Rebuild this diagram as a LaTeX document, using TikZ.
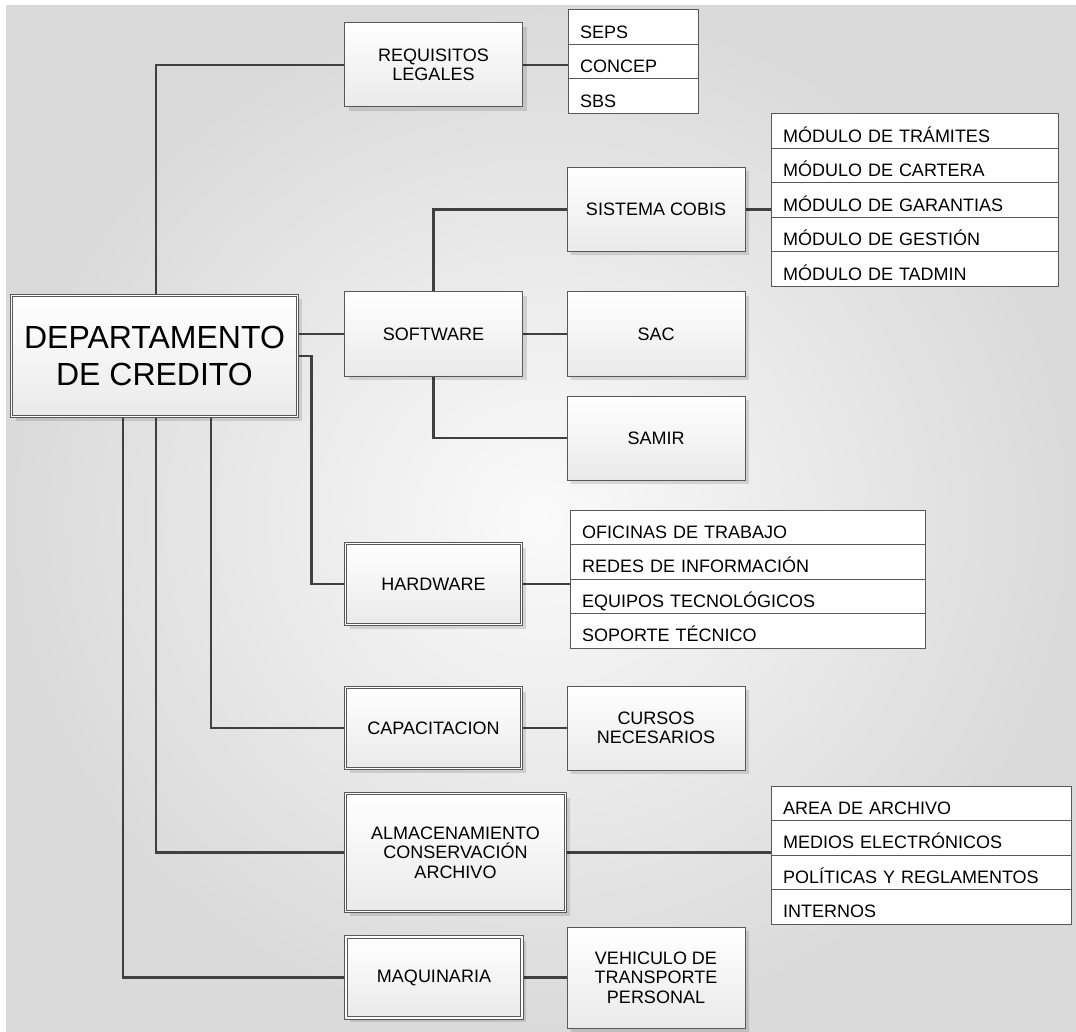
\documentclass[tikz,border=0pt]{standalone}
\usepackage{fontspec}
\setmainfont{Liberation Sans}
\usetikzlibrary{positioning, shadows, backgrounds}
\definecolor{BoxLine}{RGB}{88,88,88}
\definecolor{BoxFill}{RGB}{234,234,234}
\definecolor{LinkGray}{RGB}{64,64,64}
\definecolor{BgLight}{RGB}{250,250,250}
\definecolor{BgDark}{RGB}{218,218,218}
\newcommand\boxtext{\fontsize{18}{19.5}\selectfont}
\newcommand\headtext{\fontsize{32}{37}\selectfont}

\begin{document}
\begin{tikzpicture}[x=1pt, y=-1pt]

\tikzset{
box/.style={
draw=BoxLine,
line width=1pt,
top color=white,
bottom color=BoxFill,
minimum width=178pt,
minimum height=84pt,
align=center,
outer sep=0pt,
font=\boxtext,
drop shadow={shadow xshift=4pt, shadow yshift=-4pt, fill=black, opacity=.12}
},
dbox/.style={
box,
line width=0.9pt,
double=white,
double distance=1.6pt,
minimum width=176pt,
minimum height=81pt
},
item/.style={
draw=BoxLine,
line width=1pt,
fill=white,
text width=#1,
minimum height=34.5pt,
inner xsep=12pt,
inner ysep=2pt,
text height=22pt,
text depth=0pt,
align=left,
anchor=north west,
outer sep=0pt,
font=\boxtext
},
link/.style={draw=LinkGray, line width=2.4pt}
}

\useasboundingbox (0,0) rectangle (1076,1032);
\begin{scope}[on background layer]
\fill[white] (0,0) rectangle (1076,1032);
\shade[inner color=BgLight, outer color=BgDark] (6,6) rectangle (1076,1032);
\end{scope}

\node[dbox, minimum width=286pt, minimum height=121pt, font=\headtext] (dept) at (154.5,356)
{DEPARTAMENTO\\DE CREDITO};

% legal branch
\node[box] (req) at (433.5,65) {REQUISITOS\\LEGALES};
\node[item=106pt] (seps) at (568,10) {SEPS};
\node[item=106pt, below=0pt of seps] (concep) {CONCEP};
\node[item=106pt, below=0pt of concep] (sbs) {SBS};

% software branch
\node[box] (software) at (433.5,334) {SOFTWARE};
\node[box] (cobis) at (656,209.5) {SISTEMA COBIS};
\node[box] (sac) at (656,334) {SAC};
\node[box] (samir) at (656,438) {SAMIR};
\node[item=263pt] (mod1) at (771,114) {MÓDULO DE TRÁMITES};
\node[item=263pt, below=0pt of mod1] (mod2) {MÓDULO DE CARTERA};
\node[item=263pt, below=0pt of mod2] (mod3) {MÓDULO DE GARANTIAS};
\node[item=263pt, below=0pt of mod3] (mod4) {MÓDULO DE GESTIÓN};
\node[item=263pt, below=0pt of mod4] (mod5) {MÓDULO DE TADMIN};

% hardware branch
\node[dbox] (hardware) at (433.5,584) {HARDWARE};
\node[item=331pt] (hw1) at (570,510) {OFICINAS DE TRABAJO};
\node[item=331pt, below=0pt of hw1] (hw2) {REDES DE INFORMACIÓN};
\node[item=331pt, below=0pt of hw2] (hw3) {EQUIPOS TECNOLÓGICOS};
\node[item=331pt, below=0pt of hw3] (hw4) {SOPORTE TÉCNICO};

% training branch
\node[dbox] (capacitacion) at (433.5,728) {CAPACITACION};
\node[box] (cursos) at (656,728) {CURSOS\\NECESARIOS};

% storage branch
\node[dbox, minimum width=220pt, minimum height=118pt] (almacen) at (455.5,852.5)
{ALMACENAMIENTO\\CONSERVACIÓN\\ARCHIVO};
\node[item=276pt] (alm1) at (771,786) {AREA DE ARCHIVO};
\node[item=276pt, below=0pt of alm1] (alm2) {MEDIOS ELECTRÓNICOS};
\node[item=276pt, below=0pt of alm2] (alm3) {POLÍTICAS Y REGLAMENTOS};
\node[item=276pt, below=0pt of alm3] (alm4) {INTERNOS};

% machinery branch
\node[dbox] (maquinaria) at (434,977.5) {MAQUINARIA};
\node[box, minimum height=101pt] (vehiculo) at (656,977.5) {VEHICULO DE\\TRANSPORTE\\PERSONAL};

\begin{scope}[on background layer]
\draw[link] ([xshift=1.5pt]dept.north) |- (req.west);
\draw[link] (req.east) -- (req.east -| seps.west);
\draw[link] (dept.east |- software.west) -- (software.west);
\draw[link] (software.north) |- (cobis.west);
\draw[link] (software.east) -- (sac.west);
\draw[link] (software.south) |- (samir.west);
\draw[link] (cobis.east) -- (cobis.east -| mod1.west);
\draw[link] (dept.east) -- ++(14,0) |- (hardware.west);
\draw[link] (hardware.east) -- (hardware.east -| hw1.west);
\draw[link] ([xshift=56.5pt]dept.south) |- (capacitacion.west);
\draw[link] (capacitacion.east) -- (cursos.west);
\draw[link] ([xshift=1.5pt]dept.south) |- (almacen.west);
\draw[link] (almacen.east) -- (almacen.east -| alm1.west);
\draw[link] ([xshift=-31.5pt]dept.south) |- (maquinaria.west);
\draw[link] (maquinaria.east) -- (vehiculo.west);
\end{scope}

\end{tikzpicture}
\end{document}
